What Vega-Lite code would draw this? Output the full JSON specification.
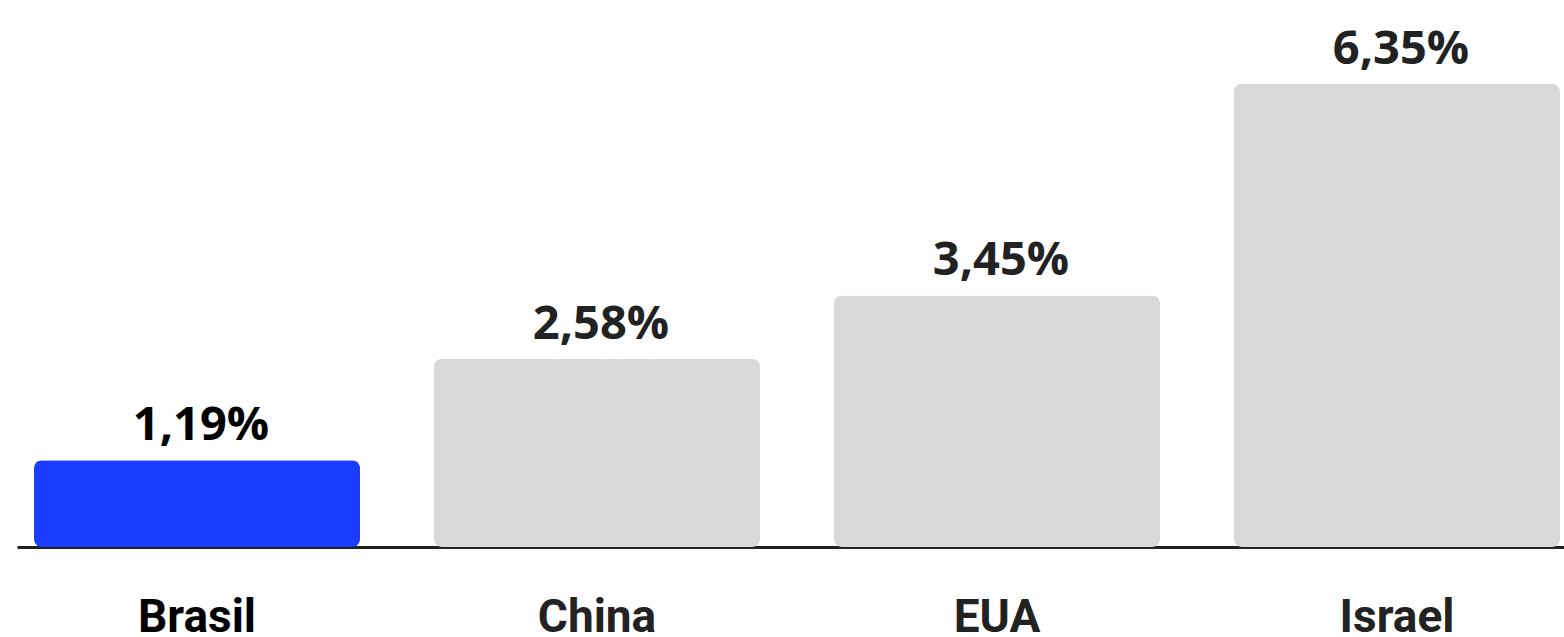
{
  "$schema": "https://vega.github.io/schema/vega-lite/v6.json",
  "width": 1547,
  "height": 547,
  "autosize": {"type": "none"},
  "padding": {"left": 17, "right": 0, "top": 0, "bottom": 90},
  "background": "white",
  "config": {"view": {"stroke": null}},
  "data": {
    "values": [
      {"pais": "Brasil", "valor": 1.19, "rotulo": "1,19%", "destaque": "sim"},
      {"pais": "China", "valor": 2.58, "rotulo": "2,58%", "destaque": "nao"},
      {"pais": "EUA", "valor": 3.45, "rotulo": "3,45%", "destaque": "nao"},
      {"pais": "Israel", "valor": 6.35, "rotulo": "6,35%", "destaque": "nao"}
    ]
  },
  "encoding": {
    "x": {
      "field": "pais",
      "type": "nominal",
      "sort": null,
      "scale": {"paddingInner": 0.185, "paddingOuter": 0.02625, "align": 0.81},
      "axis": {
        "title": null,
        "ticks": false,
        "tickSize": 0,
        "labelAngle": 0,
        "labelFont": "Roboto",
        "labelFontWeight": "bold",
        "labelFontSize": 46,
        "labelBaseline": "alphabetic",
        "labelPadding": 84,
        "labelColor": {"condition": {"test": "datum.value == 'Brasil'", "value": "#000000"}, "value": "#222222"},
        "domainColor": "#222222",
        "domainWidth": 3,
        "grid": false
      }
    },
    "y": {
      "field": "valor",
      "type": "quantitative",
      "scale": {"domain": [0, 7.5], "nice": false},
      "axis": null
    }
  },
  "layer": [
    {
      "mark": {"type": "bar", "cornerRadius": 8},
      "encoding": {
        "color": {
          "field": "destaque",
          "type": "nominal",
          "scale": {"domain": ["sim", "nao"], "range": ["#1A3CFF", "#D9D9D9"]},
          "legend": null
        }
      }
    },
    {
      "mark": {
        "type": "text",
        "font": "Open Sans",
        "fontWeight": "bold",
        "fontSize": 47,
        "baseline": "alphabetic",
        "align": "center",
        "dy": -20,
        "dx": 4
      },
      "encoding": {
        "text": {"field": "rotulo"},
        "color": {
          "field": "destaque",
          "type": "nominal",
          "scale": {"domain": ["sim", "nao"], "range": ["#000000", "#222222"]},
          "legend": null
        }
      }
    }
  ],
  "resolve": {"scale": {"color": "independent"}}
}
